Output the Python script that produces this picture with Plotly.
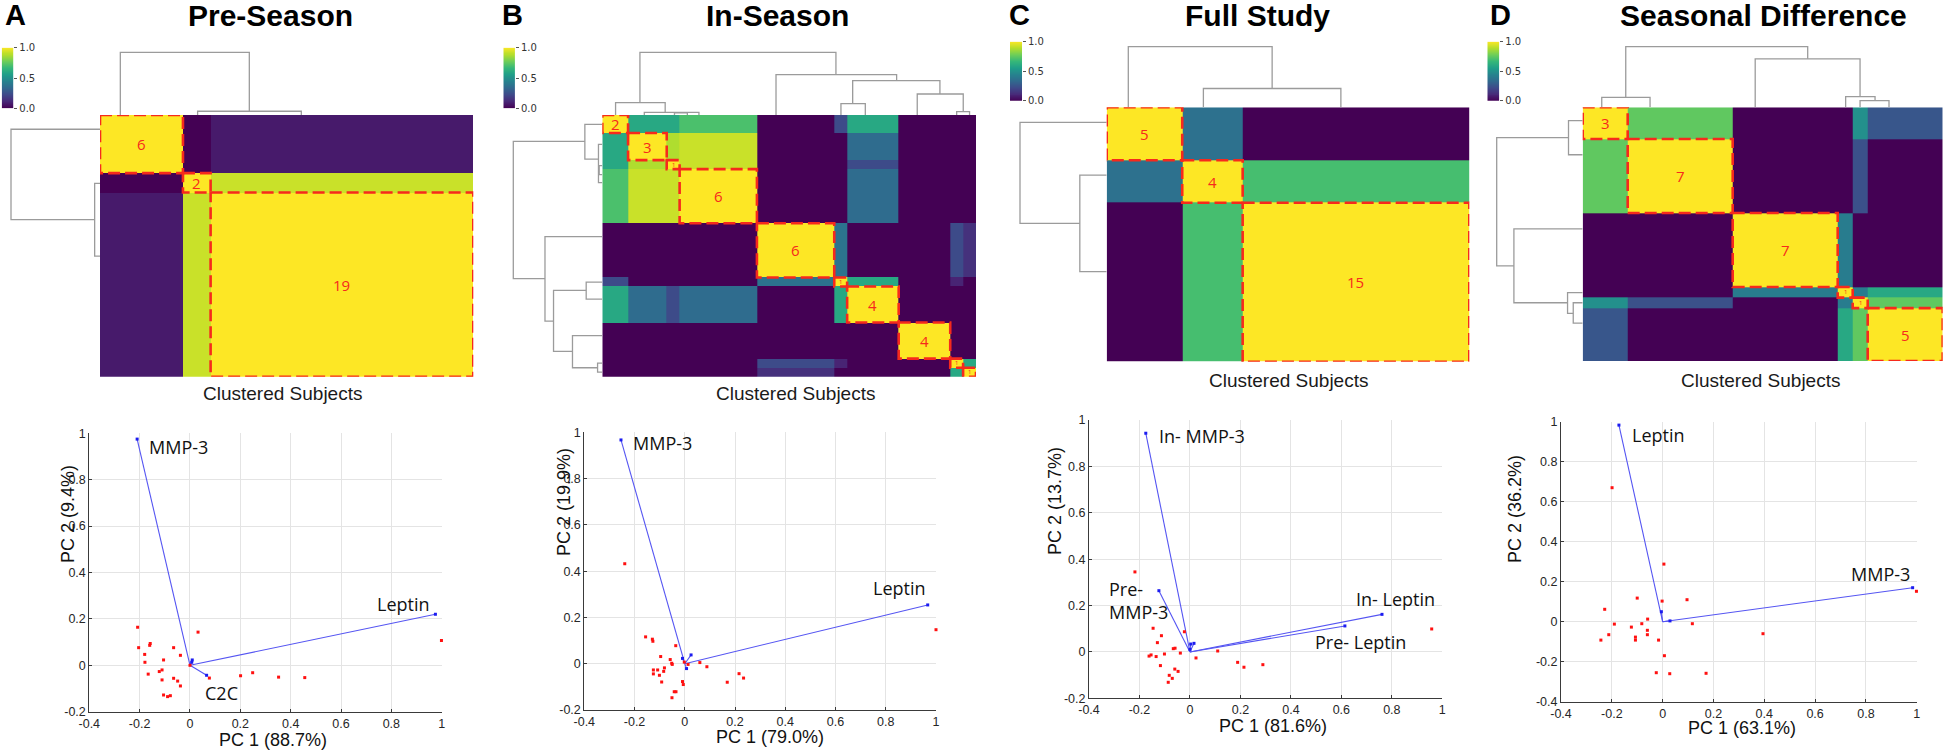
import numpy as np
import plotly.graph_objects as go

W, H = 1943, 752

# ---------------- data ----------------
letters = ["A", "B", "C", "D"]
titles = ["Pre-Season", "In-Season", "Full Study", "Seasonal Difference"]

# subjects per co-cluster block (dendrogram order)
sizes_A = [6, 2, 19]
sizes_B = [2, 3, 1, 6, 6, 1, 4, 4, 1, 1]
sizes_C = [5, 4, 15]
sizes_D = [3, 7, 7, 1, 1, 5]

# block-level co-clustering similarity
sim_A = [[1.00, 0.00, 0.07],
         [0.00, 1.00, 0.92],
         [0.07, 0.92, 1.00]]
sim_B = [[1.00, 0.60, 0.60, 0.71, 0.00, 0.23, 0.60, 0.00, 0.00, 0.00],
         [0.60, 1.00, 0.88, 0.92, 0.00, 0.00, 0.35, 0.00, 0.00, 0.00],
         [0.60, 0.88, 1.00, 0.92, 0.00, 0.00, 0.23, 0.00, 0.00, 0.00],
         [0.71, 0.92, 0.92, 1.00, 0.00, 0.00, 0.35, 0.00, 0.00, 0.00],
         [0.00, 0.00, 0.00, 0.00, 1.00, 0.38, 0.00, 0.00, 0.23, 0.14],
         [0.23, 0.00, 0.00, 0.00, 0.38, 1.00, 0.60, 0.00, 0.10, 0.00],
         [0.60, 0.35, 0.23, 0.35, 0.00, 0.60, 1.00, 0.00, 0.00, 0.00],
         [0.00, 0.00, 0.00, 0.00, 0.00, 0.00, 0.00, 1.00, 0.00, 0.00],
         [0.00, 0.00, 0.00, 0.00, 0.23, 0.10, 0.00, 0.00, 1.00, 0.60],
         [0.00, 0.00, 0.00, 0.00, 0.14, 0.00, 0.00, 0.00, 0.60, 1.00]]
sim_C = [[1.00, 0.37, 0.00],
         [0.37, 1.00, 0.70],
         [0.00, 0.70, 1.00]]
sim_D = [[1.00, 0.75, 0.00, 0.00, 0.50, 0.27],
         [0.75, 1.00, 0.00, 0.00, 0.25, 0.00],
         [0.00, 0.00, 1.00, 0.42, 0.00, 0.00],
         [0.00, 0.00, 0.42, 1.00, 0.42, 0.60],
         [0.50, 0.25, 0.00, 0.42, 1.00, 0.75],
         [0.27, 0.00, 0.00, 0.60, 0.75, 1.00]]

# dendrogram links: [left pos, right pos, height, left child height, right child height]
dend_A = [[1.47, 10.80, 1.00, 0.00, 0.06], [7.06, 14.56, 0.06, 0.00, 0.00]]
dend_B = [[2.92, 18.13, 1.00, 0.196, 0.644], [1.03, 4.88, 0.196, 0.00, 0.043],
          [3.26, 7.50, 0.043, 0.00, 0.00], [5.60, 6.60, 0.035, 0.00, 0.00],
          [13.48, 22.84, 0.644, 0.00, 0.548], [19.43, 26.20, 0.548, 0.181, 0.335],
          [18.52, 20.41, 0.181, 0.00, 0.00], [24.44, 28.01, 0.335, 0.00, 0.053],
          [27.50, 28.50, 0.053, 0.00, 0.00]]
dend_C = [[1.43, 10.95, 1.00, 0.00, 0.31], [6.40, 15.50, 0.31, 0.00, 0.00]]
dend_D = [[2.87, 15.00, 1.00, 0.165, 0.80], [1.27, 4.49, 0.165, 0.00, 0.00],
          [11.50, 18.49, 0.80, 0.00, 0.176], [17.53, 19.49, 0.176, 0.00, 0.11],
          [18.49, 20.42, 0.11, 0.00, 0.00]]

# colour-bar ticks
cbar_ticks = [0.0, 0.5, 1.0]
cbar_ticktext = ["0.0", "0.5", "1.0"]

# biplots
pc1_titles = ["PC 1 (88.7%)", "PC 1 (79.0%)", "PC 1 (81.6%)", "PC 1 (63.1%)"]
pc2_titles = ["PC 2 (9.4%)", "PC 2 (19.9%)", "PC 2 (13.7%)", "PC 2 (36.2%)"]

vec_A_x = [-0.210, 0.975, 0.066, 0.009, 0.007]
vec_A_y = [0.975, 0.220, -0.043, 0.023, 0.013]
vec_B_x = [-0.254, 0.967, 0.025, -0.009, 0.007]
vec_B_y = [0.967, 0.254, 0.038, 0.023, -0.021]
vec_C_x = [-0.175, -0.123, 0.761, 0.614, 0.003, 0.016, 0.000]
vec_C_y = [0.943, 0.264, 0.162, 0.112, 0.034, 0.037, 0.011]
vec_D_x = [-0.172, 0.984, -0.005, 0.029]
vec_D_y = [0.983, 0.170, 0.050, 0.004]

lab_A = ["MMP-3", "Leptin", "C2C"]
lab_A_x = [-0.172, 0.960, 0.053]
lab_A_y = [0.943, 0.263, -0.121]
lab_A_anchor = ["left", "right", "left"]
lab_B = ["MMP-3", "Leptin"]
lab_B_x = [-0.214, 0.970]
lab_B_y = [0.952, 0.326]
lab_B_anchor = ["left", "right"]
lab_C = ["In- MMP-3", "Pre-<br>MMP-3", "In- Leptin", "Pre- Leptin"]
lab_C_x = [-0.129, -0.330, 0.980, 0.865]
lab_C_y = [0.931, 0.220, 0.228, 0.044]
lab_C_anchor = ["left", "left", "right", "right"]
lab_D = ["Leptin", "MMP-3"]
lab_D_x = [-0.128, 0.980]
lab_D_y = [0.933, 0.238]
lab_D_anchor = ["left", "right"]

sc_A_x = [-0.208, -0.204, -0.180, -0.179, -0.166, -0.160, -0.158, -0.122, -0.111, -0.111, -0.105, -0.105, -0.089, -0.078,
          -0.065, -0.065, -0.049, -0.038, -0.038, 0.000, 0.032, 0.077, 0.201, 0.249, 0.352, 0.456, 0.999]
sc_A_y = [0.164, 0.076, 0.047, 0.013, -0.038, 0.086, 0.094, -0.027, -0.020, -0.063, 0.023, -0.128, -0.135, -0.131,
          0.076, -0.056, -0.068, 0.043, -0.089, 0.000, 0.143, -0.055, -0.045, -0.032, -0.051, -0.053, 0.107]
sc_B_x = [-0.239, -0.156, -0.129, -0.127, -0.096, -0.036, -0.058, -0.052, -0.050, -0.125, -0.125, -0.108, -0.101,
          -0.092, -0.084, -0.081, -0.009, -0.006, -0.042, -0.035, -0.051, -0.002, 0.013, 0.060, 0.088, 0.169, 0.216,
          0.234, 1.000]
sc_B_y = [0.432, 0.116, 0.106, 0.097, 0.031, 0.078, 0.018, 0.002, -0.003, -0.027, -0.044, -0.027, -0.050, -0.079,
          -0.033, -0.018, -0.077, -0.090, -0.121, -0.121, -0.147, 0.007, -0.003, 0.005, -0.013, -0.080, -0.043,
          -0.062, 0.147]
sc_C_x = [-0.218, -0.146, -0.113, -0.129, -0.022, -0.066, -0.059, -0.101, -0.162, -0.154, -0.134, -0.038, -0.117,
          -0.060, -0.047, -0.082, -0.070, -0.086, 0.024, 0.110, 0.189, 0.214, 0.289, 0.958]
sc_C_y = [0.345, 0.102, 0.070, 0.040, 0.087, 0.014, 0.016, -0.009, -0.018, -0.013, -0.020, -0.005, -0.059, -0.074,
          -0.084, -0.101, -0.114, -0.131, -0.026, 0.004, -0.045, -0.066, -0.055, 0.099]
sc_D_x = [-0.199, 0.005, -0.100, -0.002, 0.096, -0.228, -0.190, -0.212, -0.243, -0.123, -0.082, -0.059, -0.060,
          -0.060, -0.107, -0.107, -0.016, 0.007, -0.025, 0.028, 0.171, 0.117, 0.395, 0.999]
sc_D_y = [0.670, 0.288, 0.118, 0.103, 0.110, 0.062, -0.012, -0.065, -0.092, -0.027, -0.010, 0.013, -0.043, -0.065,
          -0.077, -0.092, -0.092, -0.170, -0.255, -0.260, -0.258, -0.010, -0.060, 0.152]

x_ticks = [-0.4, -0.2, 0, 0.2, 0.4, 0.6, 0.8, 1]
x_ticktext = ["-0.4", "-0.2", "0", "0.2", "0.4", "0.6", "0.8", "1"]
y_ticks_1 = [-0.2, 0, 0.2, 0.4, 0.6, 0.8, 1]
y_ticktext_1 = ["-0.2", "0", "0.2", "0.4", "0.6", "0.8", "1"]
y_ticks_2 = [-0.4, -0.2, 0, 0.2, 0.4, 0.6, 0.8, 1]
y_ticktext_2 = ["-0.4", "-0.2", "0", "0.2", "0.4", "0.6", "0.8", "1"]

# ---------------- layout geometry (pixels) ----------------
panels = [
    dict(sizes=sizes_A, sim=sim_A, dend=dend_A,
         heat=(100, 473.3, 115, 376.7), dtop=52.3, dleft=11,
         cbar=(1.7, 47.7, 11.6, 60.6), letter_x=3, title_x=270, sub=(282, 393),
         bip=(89.3, 441.7, 433.3, 711.7), yr=[-0.2, 1], yt=(y_ticks_1, y_ticktext_1),
         vx=vec_A_x, vy=vec_A_y, lab=lab_A, lx=lab_A_x, ly=lab_A_y, la=lab_A_anchor,
         sx=sc_A_x, sy=sc_A_y, xt_pos=(273, 740), yt_pos=(56, 565)),
    dict(sizes=sizes_B, sim=sim_B, dend=dend_B,
         heat=(602.3, 976, 115, 376.7), dtop=52.3, dleft=513.3,
         cbar=(503.3, 47.7, 11.6, 60.6), letter_x=500, title_x=777, sub=(795, 393),
         bip=(584.3, 936, 432.3, 710), yr=[-0.2, 1], yt=(y_ticks_1, y_ticktext_1),
         vx=vec_B_x, vy=vec_B_y, lab=lab_B, lx=lab_B_x, ly=lab_B_y, la=lab_B_anchor,
         sx=sc_B_x, sy=sc_B_y, xt_pos=(770, 737), yt_pos=(552, 558)),
    dict(sizes=sizes_C, sim=sim_C, dend=dend_C,
         heat=(1106.7, 1469.3, 107.3, 361.7), dtop=46.7, dleft=1020,
         cbar=(1010, 41.7, 12, 59), letter_x=1007, title_x=1257, sub=(1288, 380),
         bip=(1089, 1442.3, 420, 698.3), yr=[-0.2, 1], yt=(y_ticks_1, y_ticktext_1),
         vx=vec_C_x, vy=vec_C_y, lab=lab_C, lx=lab_C_x, ly=lab_C_y, la=lab_C_anchor,
         sx=sc_C_x, sy=sc_C_y, xt_pos=(1273, 726), yt_pos=(1055, 557)),
    dict(sizes=sizes_D, sim=sim_D, dend=dend_D,
         heat=(1582.7, 1942.7, 107.3, 361), dtop=46.7, dleft=1496.7,
         cbar=(1487.3, 41.7, 12, 59), letter_x=1488, title_x=1763, sub=(1760, 380),
         bip=(1561, 1916.7, 421.7, 701.7), yr=[-0.4, 1], yt=(y_ticks_2, y_ticktext_2),
         vx=vec_D_x, vy=vec_D_y, lab=lab_D, lx=lab_D_x, ly=lab_D_y, la=lab_D_anchor,
         sx=sc_D_x, sy=sc_D_y, xt_pos=(1742, 728), yt_pos=(1527, 565)),
]

layout = dict(width=W, height=H, margin=dict(l=0, r=0, t=0, b=0, pad=0), autosize=False,
              paper_bgcolor="white", plot_bgcolor="white", showlegend=False)
traces = []
shapes = []
annotations = []
count = [0]

ARIAL = "Liberation Sans, Arial, sans-serif"
SANS2 = "Open Sans, Noto Sans, sans-serif"
RED = "#f62a1c"
DGRAY = "#9b9b9b"


def new_axes(px0, px1, py0, py1, xr, yr, xkw=None, ykw=None):
    count[0] += 1
    i = count[0]
    sfx = "" if i == 1 else str(i)
    base = dict(showgrid=False, zeroline=False, showticklabels=False, ticks="", showline=False,
                fixedrange=True, automargin=False)
    xa = dict(base, domain=[px0 / W, px1 / W], range=xr, anchor="y" + sfx)
    ya = dict(base, domain=[1 - py1 / H, 1 - py0 / H], range=yr, anchor="x" + sfx)
    if xkw:
        xa.update(xkw)
    if ykw:
        ya.update(ykw)
    layout["xaxis" + sfx] = xa
    layout["yaxis" + sfx] = ya
    return "x" + sfx, "y" + sfx


def px_ann(text, x, y, size, family=ARIAL, color="black", bold=False, xanchor="center", yanchor="middle"):
    if bold:
        text = "<b>" + text + "</b>"
    annotations.append(dict(text=text, x=x / W, y=1 - y / H, xref="paper", yref="paper", showarrow=False,
                            xanchor=xanchor, yanchor=yanchor, font=dict(size=size, family=family, color=color)))


ramp = np.linspace(0, 1, 121)
PAD = 1.04
for k, p in enumerate(panels):
    sizes = p["sizes"]
    N = int(np.sum(sizes))
    edges = np.concatenate([[0], np.cumsum(sizes)]).astype(float)
    hx0, hx1, hy0, hy1 = p["heat"]

    # heatmap
    xr, yr = new_axes(hx0, hx1, hy0, hy1, [0, N], [N, 0])
    traces.append(go.Heatmap(z=p["sim"], x=edges, y=edges, colorscale="Viridis", zmin=0, zmax=1,
                             showscale=False, xaxis=xr, yaxis=yr, hoverinfo="skip"))
    # colour bar (drawn as a small ramp heatmap)
    cl, ct, cw, ch = p["cbar"]
    xc, yc = new_axes(cl, cl + cw, ct, ct + ch, [0, 1], [0, 1],
                      ykw=dict(side="right", showticklabels=True, ticks="outside", ticklen=3,
                               tickcolor="#555", tickwidth=1, tickvals=cbar_ticks, ticktext=cbar_ticktext,
                               tickfont=dict(size=10, family="DejaVu Sans", color="#333")))
    traces.append(go.Heatmap(z=ramp.reshape(-1, 1), x=[0.5], y=ramp, colorscale="Viridis", zmin=0, zmax=1,
                             showscale=False, xaxis=xc, yaxis=yc, hoverinfo="skip"))
    # boxes
    for i, n in enumerate(sizes):
        s0, s1 = edges[i], edges[i + 1]
        shapes.append(dict(type="rect", xref=xr, yref=yr, x0=s0, x1=s1, y0=s0, y1=s1,
                           line=dict(color=RED, width=2.6, dash="12px,5px"), fillcolor="rgba(0,0,0,0)"))
        annotations.append(dict(text=str(n), x=(s0 + s1) / 2, y=(s0 + s1) / 2, xref=xr, yref=yr,
                                showarrow=False, font=dict(size=15 if n > 1 else 6, family=SANS2, color=RED)))

    # top dendrogram
    dtop_px = hy0 - (hy0 - p["dtop"]) * PAD
    xr2, yr2 = new_axes(hx0, hx1, dtop_px, hy0, [0, N], [0, PAD])
    lx, ly = [], []
    for a, b, h, h1, h2 in p["dend"]:
        lx += [a, a, b, b, None]
        ly += [h1, h, h, h2, None]
    traces.append(go.Scatter(x=lx, y=ly, mode="lines", line=dict(color=DGRAY, width=1.3),
                             xaxis=xr2, yaxis=yr2, hoverinfo="skip", cliponaxis=False))
    # left dendrogram
    dl_px = hx0 - (hx0 - p["dleft"]) * PAD
    xr3, yr3 = new_axes(dl_px, hx0, hy0, hy1, [PAD, 0], [N, 0])
    traces.append(go.Scatter(x=ly, y=lx, mode="lines", line=dict(color=DGRAY, width=1.3),
                             xaxis=xr3, yaxis=yr3, hoverinfo="skip", cliponaxis=False))

    # texts
    px_ann(letters[k], p["letter_x"], 15, 29, bold=True, xanchor="left")
    px_ann(titles[k], p["title_x"], 15, 30, bold=True)
    px_ann("Clustered Subjects", p["sub"][0], p["sub"][1], 19, color="#1a1a1a")

    # biplot
    bx0, bx1, by0, by1 = p["bip"]
    axkw = dict(showgrid=True, gridcolor="#e4e4e4", gridwidth=1, showline=True, linecolor="#3a3a3a",
                linewidth=1, ticks="inside", ticklen=3, tickcolor="#3a3a3a", showticklabels=True,
                tickfont=dict(size=12.5, family=ARIAL, color="#262626"))
    xb, yb = new_axes(bx0, bx1, by0, by1, [-0.4, 1.0], p["yr"],
                      xkw=dict(axkw, tickvals=x_ticks, ticktext=x_ticktext),
                      ykw=dict(axkw, tickvals=p["yt"][0], ticktext=p["yt"][1]))
    vxs, vys = [], []
    for vx, vy in zip(p["vx"], p["vy"]):
        vxs += [0, vx, None]
        vys += [0, vy, None]
    traces.append(go.Scatter(x=vxs, y=vys, mode="lines", line=dict(color="#5555f2", width=1.1),
                             xaxis=xb, yaxis=yb, hoverinfo="skip"))
    traces.append(go.Scatter(x=p["vx"], y=p["vy"], mode="markers",
                             marker=dict(color="#1c1cf0", size=3, symbol="square"),
                             xaxis=xb, yaxis=yb, hoverinfo="skip", cliponaxis=False))
    traces.append(go.Scatter(x=p["sx"], y=p["sy"], mode="markers",
                             marker=dict(color="#ff1010", size=3, symbol="square"),
                             xaxis=xb, yaxis=yb, hoverinfo="skip", cliponaxis=False))
    for t, x, y, a in zip(p["lab"], p["lx"], p["ly"], p["la"]):
        annotations.append(dict(text=t, x=x, y=y, xref=xb, yref=yb, showarrow=False, xanchor=a, align="left",
                                font=dict(size=18, family=SANS2, color="#111")))
    px_ann(pc1_titles[k], p["xt_pos"][0], p["xt_pos"][1], 18, color="#111")
    annotations.append(dict(text=pc2_titles[k], x=p["yt_pos"][0] / W, y=1 - p["yt_pos"][1] / H,
                            xref="paper", yref="paper", showarrow=False, textangle=-90,
                            font=dict(size=18, family=ARIAL, color="#111")))

layout["shapes"] = shapes
layout["annotations"] = annotations
fig = go.Figure(data=traces, layout=layout)
fig.write_html("out.html", config={"displayModeBar": False, "staticPlot": True},
               post_script="document.body.style.margin='0';")
